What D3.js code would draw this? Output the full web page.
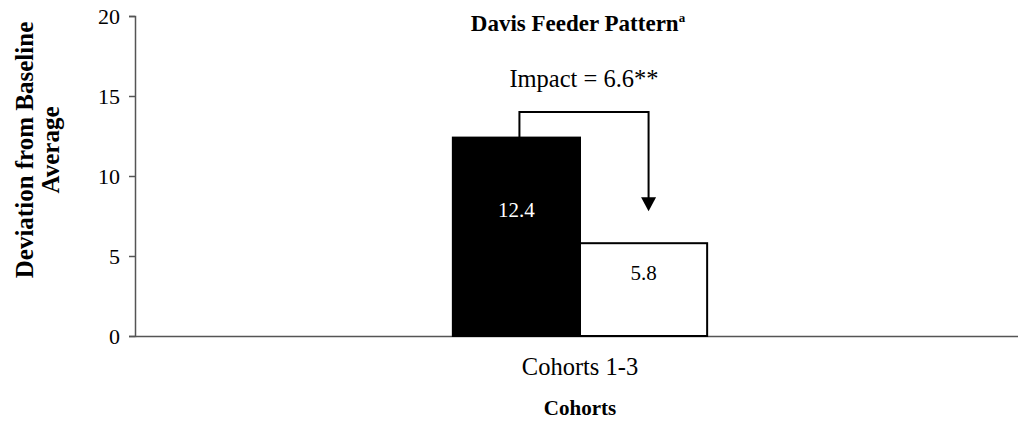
<!DOCTYPE html>
<html>
<head>
<meta charset="utf-8">
<script src="https://cdn.jsdelivr.net/npm/d3@7"></script>
</head>
<body style="margin:0; background:#fff">
<script>
// chart data
var categories = ["Cohorts 1-3"];
var seriesNames = ["Projected", "Actual"];
var seriesValues = [12.4, 5.8];
var seriesColors = ["#000", "#fff"];
var labelColors = ["#fff", "#000"];
var yTicks = [0, 5, 10, 15, 20];
var impactLabel = "Impact = 6.6**";
var impactTop = 14; // arrow top, in data units

var width = 1018;
var height = 422;
var margin = {top: 16, right: -7, bottom: 86, left: 135};
var serif = "Liberation Serif";

var svg = d3.select("body").append("svg")
	.attr("width", width)
	.attr("height", height)
	.attr("font-family", serif);

var x = d3.scaleBand()
	.domain(categories)
	.range([margin.left, width - margin.right])
	.paddingInner(0)
	.paddingOuter(1.25);

var x1 = d3.scaleBand()
	.domain(seriesNames)
	.range([0, x.bandwidth()]);

var y = d3.scaleLinear()
	.domain([0, 20])
	.range([height - margin.bottom, margin.top]);

// y axis
var yAxis = svg.append("g")
	.attr("transform", "translate(" + margin.left + ",0)")
	.call(d3.axisLeft(y).tickValues(yTicks).tickSize(6).tickPadding(9));
yAxis.attr("font-family", serif).attr("font-size", 22);
yAxis.select(".domain").attr("stroke", "#555").attr("stroke-width", 1.5);
yAxis.selectAll(".tick line").attr("stroke", "#555").attr("stroke-width", 1.5);
yAxis.selectAll(".tick text").attr("fill", "#000").attr("dy", "0.33em");

// x axis
var xAxis = svg.append("g")
	.attr("transform", "translate(0," + y(0) + ")")
	.call(d3.axisBottom(x).tickSize(0).tickPadding(22));
xAxis.attr("font-family", serif).attr("font-size", 24.5);
xAxis.select(".domain").attr("stroke", "#555").attr("stroke-width", 1.5);
xAxis.selectAll(".tick text").attr("fill", "#000").attr("dy", "0.71em");

// bars
var group = svg.append("g")
	.attr("transform", "translate(" + x(categories[0]) + ",0)");

group.selectAll("rect")
	.data(seriesValues)
	.enter()
	.append("rect")
	.attr("x", function(d, i) { return x1(seriesNames[i]); })
	.attr("y", function(d) { return y(d); })
	.attr("width", x1.bandwidth())
	.attr("height", function(d) { return y(0) - y(d); })
	.attr("fill", function(d, i) { return seriesColors[i]; })
	.attr("stroke", "#000")
	.attr("stroke-width", 2);

group.selectAll("text.val")
	.data(seriesValues)
	.enter()
	.append("text")
	.attr("class", "val")
	.attr("x", function(d, i) { return x1(seriesNames[i]) + x1.bandwidth() / 2; })
	.attr("y", function(d) { return y(d * 0.6); })
	.attr("text-anchor", "middle")
	.attr("font-family", serif)
	.attr("font-size", 21)
	.attr("fill", function(d, i) { return labelColors[i]; })
	.text(function(d) { return d.toFixed(1); });

// impact arrow
var ax1 = x(categories[0]) + x1(seriesNames[0]) + x1.bandwidth() / 2 + 3;
var ax2 = x(categories[0]) + x1(seriesNames[1]) + x1.bandwidth() / 2 + 5;
var topY = y(impactTop);
var tipY = y(seriesValues[1]) - 32;

svg.append("path")
	.attr("d", "M" + ax1 + "," + y(seriesValues[0]) + "V" + topY + "H" + ax2 + "V" + (tipY - 12))
	.attr("fill", "none")
	.attr("stroke", "#000")
	.attr("stroke-width", 2);

svg.append("path")
	.attr("d", "M" + (ax2 - 7.5) + "," + (tipY - 14) + "L" + (ax2 + 7.5) + "," + (tipY - 14) + "L" + ax2 + "," + tipY + "Z")
	.attr("fill", "#000");

svg.append("text")
	.attr("x", (ax1 + ax2) / 2)
	.attr("y", 87)
	.attr("text-anchor", "middle")
	.attr("font-family", serif)
	.attr("font-size", 24.5)
	.text(impactLabel);

// title
var title = svg.append("text")
	.attr("x", x(categories[0]) + x.bandwidth() / 2 - 2)
	.attr("y", 31)
	.attr("text-anchor", "middle")
	.attr("font-family", serif)
	.attr("font-size", 23)
	.attr("font-weight", "bold")
	.text("Davis Feeder Pattern");
title.append("tspan")
	.attr("dy", -9)
	.attr("font-size", 13)
	.text("a");

// axis titles
svg.append("text")
	.attr("x", x(categories[0]) + x.bandwidth() / 2)
	.attr("y", 415)
	.attr("text-anchor", "middle")
	.attr("font-family", serif)
	.attr("font-size", 21)
	.attr("font-weight", "bold")
	.text("Cohorts");

var yTitle = svg.append("text")
	.attr("transform", "translate(33,150) rotate(-90)")
	.attr("text-anchor", "middle")
	.attr("font-family", serif)
	.attr("font-size", 25)
	.attr("font-weight", "bold");
yTitle.append("tspan").attr("x", 0).attr("dy", 0).text("Deviation from Baseline");
yTitle.append("tspan").attr("x", 0).attr("dy", 26).text("Average");
</script>
</body>
</html>
